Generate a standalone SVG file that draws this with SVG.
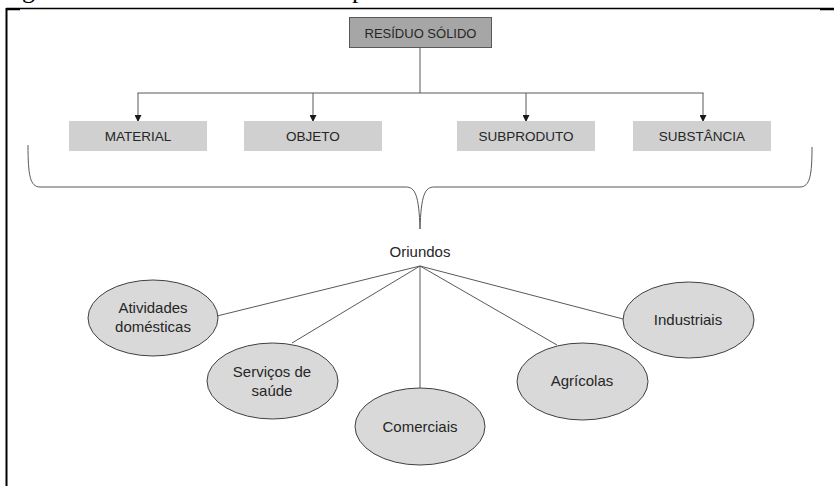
<svg xmlns="http://www.w3.org/2000/svg" width="834" height="486" viewBox="0 0 834 486">
<defs>
<style>
.lbl{font-family:"Liberation Sans",Arial,sans-serif;fill:#262626;text-anchor:middle}
.box{fill:#d0d0d0}
.ell{fill:#d9d9d9;stroke:#404040;stroke-width:1}
.con{stroke:#595959;stroke-width:1;fill:none}
.cap{font-family:"Liberation Serif","Times New Roman",serif;font-size:26px;fill:#000}
</style>
<marker id="arr" markerWidth="6" markerHeight="7" refX="3" refY="7" orient="auto" markerUnits="userSpaceOnUse" viewBox="0 0 6 7">
<path d="M0,0 L6,0 L3,7 Z" fill="#262626" transform="rotate(-90 3 3.5)"/>
</marker>
<marker id="ah" markerWidth="7" markerHeight="7" refX="6" refY="3.5" orient="auto" markerUnits="userSpaceOnUse">
<path d="M0,0 L7,3.5 L0,7 Z" fill="#1a1a1a"/>
</marker>
</defs>
<rect width="834" height="486" fill="#fff"/>
<g id="frame">
<text class="cap" x="22" y="-2">g</text>
<text class="cap" x="352" y="-2">p</text>
<line x1="6" y1="8.5" x2="834" y2="8.5" stroke="#000" stroke-width="1.5"/>
<line x1="6" y1="9.5" x2="20" y2="9.5" stroke="#000" stroke-width="1.5"/>
<line x1="820" y1="9.5" x2="834" y2="9.5" stroke="#000" stroke-width="1.5"/>
<line x1="6.5" y1="8" x2="6.5" y2="486" stroke="#000" stroke-width="2"/>
</g>
<g id="connectors">
<path class="con" d="M420,47 V93 M137.5,93 H703.5"/>
<line class="con" x1="138" y1="93" x2="138" y2="121" marker-end="url(#ah)"/>
<line class="con" x1="313" y1="93" x2="313" y2="121" marker-end="url(#ah)"/>
<line class="con" x1="526" y1="93" x2="526" y2="121" marker-end="url(#ah)"/>
<line class="con" x1="703" y1="93" x2="703" y2="121" marker-end="url(#ah)"/>
<path class="con" d="M28,145 C28,175 30,187 40,187 L406,187 C415,187 419,195 420,229 C421,195 425,187 434,187 L800,187 C810,187 812,175 812,147"/>
<path class="con" d="M420,266 L217,316 M420,266 L292,343 M420,266 L420,388 M420,266 L557,345 M420,266 L623,319"/>
</g>
<g id="residuo">
<rect x="349.5" y="17.5" width="142" height="30" fill="#a6a6a6" stroke="#595959" stroke-width="1"/>
<text class="lbl" x="420.5" y="37.5" font-size="13">RESÍDUO SÓLIDO</text>
</g>
<g id="material">
<rect class="box" x="69" y="121" width="138" height="30"/>
<text class="lbl" x="138" y="141" font-size="13.5">MATERIAL</text>
</g>
<g id="objeto">
<rect class="box" x="244" y="121" width="138" height="30"/>
<text class="lbl" x="313" y="141" font-size="13.5">OBJETO</text>
</g>
<g id="subproduto">
<rect class="box" x="457" y="121" width="138" height="30"/>
<text class="lbl" x="526" y="141" font-size="13.5">SUBPRODUTO</text>
</g>
<g id="substancia">
<rect class="box" x="633" y="121" width="138" height="30"/>
<text class="lbl" x="702" y="141" font-size="13.5">SUBSTÂNCIA</text>
</g>
<g id="oriundos">
<text class="lbl" x="420" y="257" font-size="15">Oriundos</text>
</g>
<g id="atividades">
<ellipse class="ell" cx="153" cy="318" rx="65" ry="38"/>
<text class="lbl" x="153" y="313" font-size="15">Atividades</text>
<text class="lbl" x="153" y="332" font-size="15">domésticas</text>
</g>
<g id="servicos">
<ellipse class="ell" cx="272.5" cy="381" rx="65.5" ry="38"/>
<text class="lbl" x="272" y="377" font-size="15">Serviços de</text>
<text class="lbl" x="272" y="396" font-size="15">saúde</text>
</g>
<g id="comerciais">
<ellipse class="ell" cx="420" cy="426.5" rx="65" ry="38.5"/>
<text class="lbl" x="420" y="432" font-size="15">Comerciais</text>
</g>
<g id="agricolas">
<ellipse class="ell" cx="582.5" cy="381.5" rx="65.5" ry="38.5"/>
<text class="lbl" x="582" y="386" font-size="15">Agrícolas</text>
</g>
<g id="industriais">
<ellipse class="ell" cx="688.5" cy="320" rx="65.5" ry="38"/>
<text class="lbl" x="688" y="325" font-size="15">Industriais</text>
</g>
</svg>
